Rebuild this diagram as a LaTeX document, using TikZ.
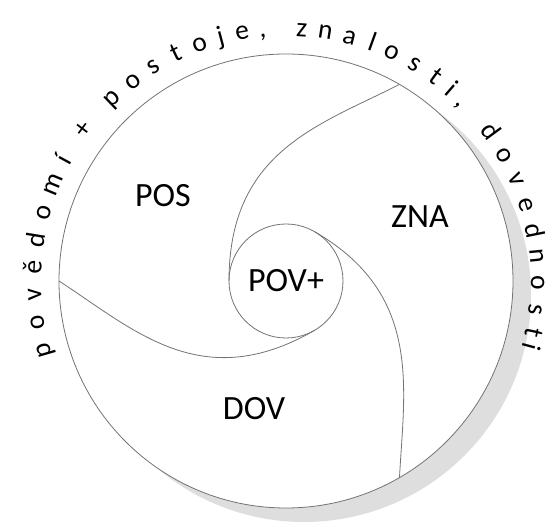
\documentclass[tikz,border=0pt]{standalone}
\usepackage{fontspec}
\setmainfont{Carlito}
\begin{document}
\begin{tikzpicture}[x=1pt,y=1pt,
  ln/.style={draw=black!55, line width=0.8pt},
  ring/.style={circle, draw=black!55, line width=0.8pt, inner sep=0pt, outer sep=0pt},
  lab/.style={font=\fontsize{34}{40}\selectfont, inner sep=0pt},
  arcl/.style={font=\fontsize{27.5}{32}\selectfont, inner sep=0pt, anchor=base}]
\useasboundingbox (0,0) rectangle (550,524);
\coordinate (O) at (286,243);
\coordinate (S) at (304,229);
% shadow
\fill[black!13] (S) circle (227);
% outer circle and centre circle
\node[ring, fill=white, minimum size=454pt] (big) at (O) {};
\node[ring, minimum size=114pt, lab] (pov) at (O) {POV+};
% spiral dividers
\draw[ln] (pov.180) .. controls +(90:130) and +(207:90) .. (big.60);
\draw[ln] (pov.-60) .. controls +(-150:130) and +(-33:90) .. (big.180);
\draw[ln] (pov.60) .. controls +(-30:125) and +(87:90) .. (big.-60);
% sector labels
\node[lab] (pos) at (163,328) {POS};
\node[lab] (zna) at (420,307) {ZNA};
\node[lab] (dov) at (254,115) {DOV};
% curved text
\begin{scope}[shift={(286,243)}]
\foreach \c/\a [count=\i] in {p/196.1, o/189.6, v/183.0, ě/176.8, d/170.8, o/164.3, m/157.5, í/151.5, +/143.2, p/133.7, o/127.5, s/121.8, t/115.8, o/110.0, j/105.0, e/100.0, {,}/95.3, z/86.4, n/81.0, a/75.4, l/70.1, o/65.0, s/59.3, t/53.7, i/49.2, {,}/45.6, d/36.2, o/30.0, v/23.8, e/17.6, d/11.4, n/5.6, o/-0.4, s/-6.6, t/-11.8, i/-15.0}
  \node[arcl, rotate=\a-90] (t\i) at (\a:245) {\c};
\end{scope}
\end{tikzpicture}
\end{document}
